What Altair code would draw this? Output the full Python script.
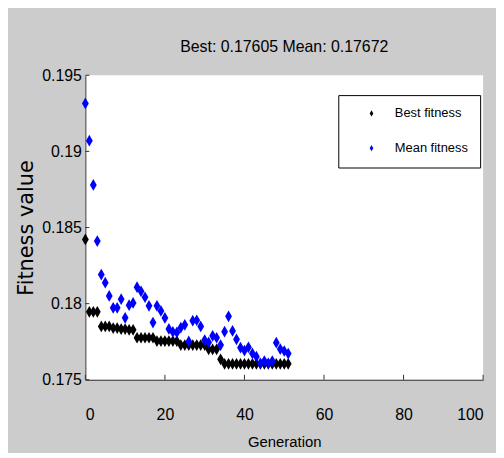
import altair as alt
import pandas as pd

# ---- data ----
generations = list(range(52))
best_fitness = [0.18422,
                0.17946, 0.17946, 0.17946,
                0.17850, 0.17850, 0.17850,
                0.17840, 0.17840,
                0.17833, 0.17833,
                0.17828, 0.17828,
                0.17776, 0.17776, 0.17776, 0.17776, 0.17776,
                0.17754, 0.17754, 0.17754, 0.17754, 0.17754, 0.17754,
                0.17728, 0.17728, 0.17728, 0.17728, 0.17728, 0.17728, 0.17728,
                0.17700, 0.17700, 0.17700,
                0.17634,
                0.17605, 0.17605, 0.17605, 0.17605, 0.17605, 0.17605, 0.17605,
                0.17605, 0.17605, 0.17605, 0.17605, 0.17605, 0.17605, 0.17605,
                0.17605, 0.17605, 0.17605]
mean_fitness = [0.19315, 0.19070, 0.18780, 0.18411, 0.18191, 0.18138, 0.18051, 0.17973, 0.17973, 0.18029,
                0.17907, 0.17990, 0.18005, 0.18108, 0.18081, 0.18042, 0.17986, 0.17876, 0.17986, 0.17952,
                0.17906, 0.17834, 0.17814, 0.17811, 0.17842, 0.17861, 0.17752, 0.17888, 0.17891, 0.17850,
                0.17761, 0.17745, 0.17789, 0.17776, 0.17728, 0.17816, 0.17917, 0.17821, 0.17766, 0.17711,
                0.17692, 0.17713, 0.17673, 0.17652, 0.17608, 0.17623, 0.17608, 0.17623, 0.17744, 0.17702,
                0.17689, 0.17672]
series_names = ["Best fitness", "Mean fitness"]
series_colors = ["#000000", "#0000ff"]
x_ticks = [0, 20, 40, 60, 80, 100]
y_ticks = [0.175, 0.18, 0.185, 0.19, 0.195]
title_text = "Best: 0.17605 Mean: 0.17672"
x_title = "Generation"
y_title = "Fitness value"

df = pd.DataFrame({
    "Generation": generations + generations,
    "Fitness": best_fitness + mean_fitness,
    "Series": [series_names[0]] * len(best_fitness) + [series_names[1]] * len(mean_fitness),
})
xt_df = pd.DataFrame({"Generation": x_ticks})
yt_df = pd.DataFrame({"Fitness": y_ticks})

FONT = "Liberation Sans, Arial, sans-serif"
DIAMOND = "M0,-1L0.58,0L0,1L-0.58,0Z"
AXIS_COLOR = "#333333"

W, H = 401, 307
xscale = alt.Scale(domain=[0, 100], nice=False, zero=False)
yscale = alt.Scale(domain=[0.175, 0.195], nice=False, zero=False)

points = alt.Chart(df).mark_point(shape=DIAMOND, filled=True, size=140, opacity=1).encode(
    x=alt.X("Generation:Q", scale=xscale,
            axis=alt.Axis(values=x_ticks, title=x_title, labelPadding=23,
                          titleY=67, titleBaseline="alphabetic", titleFontSize=15)),
    y=alt.Y("Fitness:Q", scale=yscale,
            axis=alt.Axis(values=y_ticks, format=".3~f", title=y_title, labelPadding=0,
                          titleX=-53, titleY=H / 2, titleBaseline="alphabetic",
                          titleFont="DejaVu Sans", titleFontSize=21)),
    color=alt.Color("Series:N", scale=alt.Scale(domain=series_names, range=series_colors),
                    legend=alt.Legend(title=None, orient="none", legendX=255, legendY=20,
                                      padding=12, symbolOffset=15, labelOffset=17, rowPadding=21,
                                      fillColor="white", strokeColor="black",
                                      cornerRadius=0, symbolType=DIAMOND, symbolSize=40,
                                      symbolStrokeWidth=0,
                                      labelFont=FONT, labelFontSize=13, labelColor="black")),
)

yticks = alt.Chart(yt_df).mark_rule(color=AXIS_COLOR, strokeWidth=1).encode(
    y=alt.Y("Fitness:Q", scale=yscale),
    x=alt.value(0), x2=alt.value(4),
)
xticks = alt.Chart(xt_df).mark_rule(color=AXIS_COLOR, strokeWidth=1).encode(
    x=alt.X("Generation:Q", scale=xscale),
    y=alt.value(H), y2=alt.value(H - 5),
)

chart = alt.layer(points, yticks, xticks).properties(
    width=W, height=H,
    autosize=alt.AutoSizeParams(type="none"),
    padding={"left": 78, "top": 66, "right": 13, "bottom": 72},
    background="#cccccc",
    title=alt.TitleParams(title_text, font=FONT, fontSize=16, fontWeight="normal",
                          color="black", anchor="middle", frame="group",
                          baseline="alphabetic", offset=2, dy=3),
).configure_view(
    fill="white", strokeWidth=0,
).configure_legend(
    strokeWidth=1,
).configure_axis(
    grid=False, tickSize=4, tickColor="transparent",
    domainColor=AXIS_COLOR, domainWidth=1,
    labelFont=FONT, labelFontSize=16, labelColor="black",
    titleFont=FONT, titleFontSize=15, titleFontWeight="normal", titleColor="black",
)

chart.save("out.html", embed_options={"renderer": "svg", "actions": False})
